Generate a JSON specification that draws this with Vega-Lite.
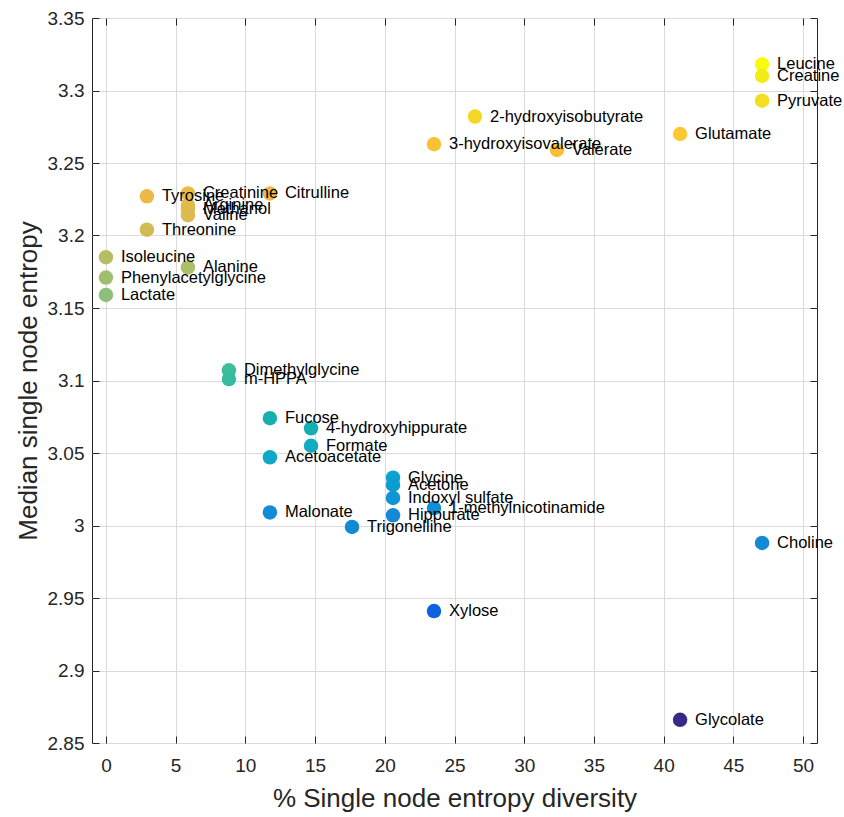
{
  "$schema": "https://vega.github.io/schema/vega-lite/v6.json",
  "autosize": "none",
  "width": 725,
  "height": 725,
  "padding": {"left": 92, "top": 18, "right": 27, "bottom": 74},
  "background": "white",
  "config": {
    "view": {"stroke": "#262626", "strokeWidth": 1},
    "font": "Liberation Sans",
    "axis": {
      "labelFont": "Liberation Sans",
      "titleFont": "Liberation Sans",
      "labelFontSize": 19,
      "titleFontSize": 26,
      "titleFontWeight": "normal",
      "labelColor": "#262626",
      "titleColor": "#262626",
      "tickColor": "#262626",
      "domain": false,
      "gridColor": "#dadada",
      "gridWidth": 1,
      "tickSize": -7
    }
  },
  "data": {
    "values": [
      {"name": "Leucine", "div": 47.06, "ent": 3.318},
      {"name": "Creatine", "div": 47.06, "ent": 3.31},
      {"name": "Pyruvate", "div": 47.06, "ent": 3.293},
      {"name": "2-hydroxyisobutyrate", "div": 26.47, "ent": 3.282},
      {"name": "Glutamate", "div": 41.18, "ent": 3.27},
      {"name": "3-hydroxyisovalerate", "div": 23.53, "ent": 3.263},
      {"name": "Valerate", "div": 32.35, "ent": 3.259},
      {"name": "Creatinine", "div": 5.88, "ent": 3.229},
      {"name": "Citrulline", "div": 11.76, "ent": 3.229},
      {"name": "Tyrosine", "div": 2.94, "ent": 3.227},
      {"name": "Arginine", "div": 5.88, "ent": 3.221},
      {"name": "Methanol", "div": 5.88, "ent": 3.218},
      {"name": "Valine", "div": 5.88, "ent": 3.214},
      {"name": "Threonine", "div": 2.94, "ent": 3.204},
      {"name": "Isoleucine", "div": 0, "ent": 3.185},
      {"name": "Alanine", "div": 5.88, "ent": 3.178},
      {"name": "Phenylacetylglycine", "div": 0, "ent": 3.171},
      {"name": "Lactate", "div": 0, "ent": 3.159},
      {"name": "Dimethylglycine", "div": 8.82, "ent": 3.107},
      {"name": "m-HPPA", "div": 8.82, "ent": 3.101},
      {"name": "Fucose", "div": 11.76, "ent": 3.074},
      {"name": "4-hydroxyhippurate", "div": 14.71, "ent": 3.067},
      {"name": "Formate", "div": 14.71, "ent": 3.055},
      {"name": "Acetoacetate", "div": 11.76, "ent": 3.047},
      {"name": "Glycine", "div": 20.59, "ent": 3.033},
      {"name": "Acetone", "div": 20.59, "ent": 3.028},
      {"name": "Indoxyl sulfate", "div": 20.59, "ent": 3.019},
      {"name": "1-methylnicotinamide", "div": 23.53, "ent": 3.012},
      {"name": "Malonate", "div": 11.76, "ent": 3.009},
      {"name": "Hippurate", "div": 20.59, "ent": 3.007},
      {"name": "Trigonelline", "div": 17.65, "ent": 2.999},
      {"name": "Choline", "div": 47.06, "ent": 2.988},
      {"name": "Xylose", "div": 23.53, "ent": 2.941},
      {"name": "Glycolate", "div": 41.18, "ent": 2.866}
    ]
  },
  "layer": [
    {
      "mark": {"type": "circle", "size": 210, "opacity": 1},
      "encoding": {
        "x": {
          "field": "div", "type": "quantitative",
          "scale": {"domain": [-1, 51], "nice": false, "zero": false},
          "axis": {"orient": "bottom", "values": [0,5,10,15,20,25,30,35,40,45,50], "title": "% Single node entropy diversity", "labelPadding": 20, "titlePadding": 10, "grid": true}
        },
        "y": {
          "field": "ent", "type": "quantitative",
          "scale": {"domain": [2.85, 3.35], "nice": false, "zero": false},
          "axis": {"orient": "left", "values": [2.85,2.9,2.95,3,3.05,3.1,3.15,3.2,3.25,3.3,3.35], "format": "~g", "title": "Median single node entropy", "labelPadding": 15, "titlePadding": 6, "grid": true}
        },
        "color": {
          "field": "ent", "type": "quantitative", "legend": null,
          "scale": {
            "type": "linear",
            "interpolate": "rgb",
            "domain": [2.866, 2.941, 2.988, 3.007, 3.033, 3.055, 3.074, 3.104, 3.159, 3.185, 3.204, 3.227, 3.261, 3.27, 3.282, 3.293, 3.31, 3.318],
            "range": ["#352a87", "#0d64e0", "#1489d4", "#138ad6", "#09a2d1", "#12abc0", "#18b0ae", "#3bbc9c", "#8cc078", "#b6bd62", "#d2bb56", "#ecb946", "#fbbf35", "#fcc933", "#f4d826", "#f3df22", "#f4ec18", "#f9fb0e"]
          }
        }
      }
    },
    {
      "mark": {"type": "text", "align": "left", "baseline": "middle", "dx": 15, "fontSize": 16.5, "font": "Liberation Sans", "color": "#000000"},
      "encoding": {
        "x": {
          "field": "div", "type": "quantitative",
          "scale": {"domain": [-1, 51], "nice": false, "zero": false},
          "axis": {"orient": "top", "values": [0,5,10,15,20,25,30,35,40,45,50], "labels": false, "title": null, "grid": false}
        },
        "y": {
          "field": "ent", "type": "quantitative",
          "scale": {"domain": [2.85, 3.35], "nice": false, "zero": false},
          "axis": {"orient": "right", "values": [2.85,2.9,2.95,3,3.05,3.1,3.15,3.2,3.25,3.3,3.35], "labels": false, "title": null, "grid": false}
        },
        "text": {"field": "name", "type": "nominal"}
      }
    }
  ],
  "resolve": {"axis": {"x": "independent", "y": "independent"}}
}
